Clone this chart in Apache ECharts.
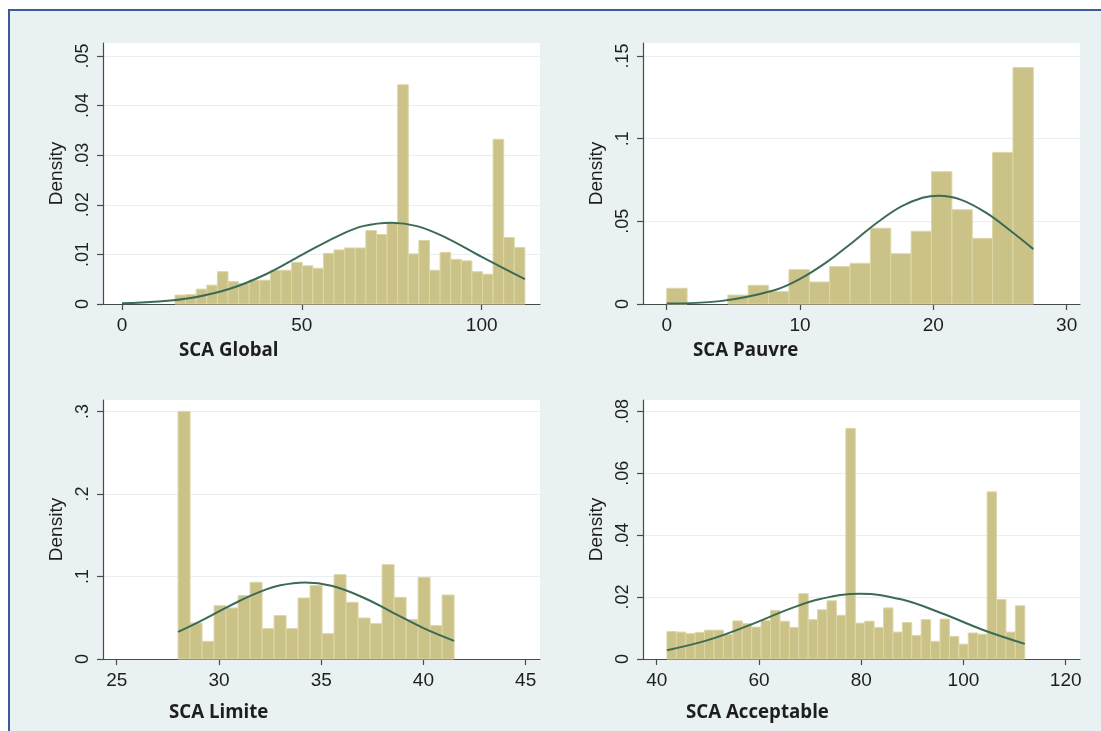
<!DOCTYPE html>
<html>
<head>
<meta charset="utf-8">
<script src="https://cdn.jsdelivr.net/npm/echarts@6/dist/echarts.min.js"></script>
<style>
html,body{margin:0;padding:0;background:#fff;}
#chart{width:1101px;height:731px;}
</style>
</head>
<body>
<div id="chart"></div>
<script>
// ---------- DATA ----------
const titles = ['SCA Global', 'SCA Pauvre', 'SCA Limite', 'SCA Acceptable'];
const yName = 'Density';

// histogram bins: first bin start, bin width, densities
const globalBinStart = 0, globalBinWidth = 112 / 38;
const globalDensity = [0, 0, 0, 0, 0,
  0.0018, 0.0019, 0.0030, 0.0038, 0.0065, 0.0045, 0.0041, 0.0048, 0.0048, 0.0068,
  0.0068, 0.0084, 0.0077, 0.0072, 0.0102, 0.0109, 0.0113, 0.0113, 0.0148, 0.0140,
  0.0164, 0.0442, 0.0101, 0.0128, 0.0068, 0.0104, 0.0090, 0.0087, 0.0065, 0.0060,
  0.0332, 0.0134, 0.0114];

const pauvreBinStart = 0, pauvreBinWidth = 27.5 / 18;
const pauvreDensity = [0.0095, 0, 0, 0.0054, 0.0113, 0.0075, 0.0208, 0.0133, 0.0226,
  0.0246, 0.0458, 0.0304, 0.0440, 0.0800, 0.0570, 0.0397, 0.0917, 0.1430];

const limiteBinStart = 28, limiteBinWidth = 13.5 / 23;
const limiteDensity = [0.300, 0.0436, 0.0214, 0.0646, 0.0618, 0.0768, 0.0929, 0.0368,
  0.0525, 0.0368, 0.0739, 0.0889, 0.0307, 0.1022, 0.0687, 0.0497, 0.0428, 0.1143,
  0.0747, 0.0477, 0.0990, 0.0404, 0.0775];

const acceptBinStart = 42, acceptBinWidth = 70 / 38;
const acceptDensity = [0.0089, 0.0087, 0.0082, 0.0086, 0.0093, 0.0093, 0.0079, 0.0123,
  0.0114, 0.0103, 0.0124, 0.0157, 0.0122, 0.0102, 0.0211, 0.0127, 0.0159, 0.0188,
  0.0141, 0.0745, 0.0116, 0.0122, 0.0102, 0.0165, 0.0087, 0.0118, 0.0076, 0.0127,
  0.0057, 0.0129, 0.0073, 0.0048, 0.0084, 0.0080, 0.0540, 0.0192, 0.0087, 0.0172];

// overlaid normal curves [x, density]
const globalCurve = [[0,0.00015],[10,0.00049],[20,0.00133],[30,0.00307],[40,0.0060],[50,0.0099],
  [60,0.0137],[67,0.0157],[75,0.0164],[82,0.0157],[90,0.0134],[100,0.0095],[112,0.0050]];
const pauvreCurve = [[0,0.00024],[4,0.00174],[8,0.0082],[10,0.0152],[12,0.0253],[14,0.0377],
  [16,0.0505],[18,0.0606],[20.4,0.0655],[22,0.0633],[24,0.0550],[26,0.0429],[27.5,0.0332]];
const limiteCurve = [[28,0.0328],[29,0.0447],[30,0.0576],[31,0.0703],[32,0.0814],[33,0.0893],
  [34.2,0.0928],[35.5,0.0887],[37,0.0751],[38.5,0.0563],[40,0.0374],[41.5,0.0220]];
const acceptCurve = [[42,0.00286],[50,0.0061],[58,0.01085],[66,0.0162],[72,0.0194],[79.8,0.0211],
  [88,0.0192],[96,0.0146],[104,0.0093],[112,0.0049]];

// tick labels
const xTicks = [[0, 50, 100], [0, 10, 20, 30], [25, 30, 35, 40, 45], [40, 60, 80, 100, 120]];
const yTicks = [[0, 0.01, 0.02, 0.03, 0.04, 0.05], [0, 0.05, 0.1, 0.15], [0, 0.1, 0.2, 0.3],
  [0, 0.02, 0.04, 0.06, 0.08]];

// ---------- LAYOUT / STYLE ----------
const panels = [
  {left:103, top:43, width:437, height:261, xmin:-5.28, xmax:116.2, ymax:0.05262,
   bins:[globalBinStart, globalBinWidth, globalDensity], curve:globalCurve, tx:179, ty:351},
  {left:643, top:43, width:437, height:261, xmin:-1.78, xmax:31.0, ymax:0.15786,
   bins:[pauvreBinStart, pauvreBinWidth, pauvreDensity], curve:pauvreCurve, tx:693, ty:351},
  {left:103, top:400, width:437, height:259, xmin:24.33, xmax:45.70, ymax:0.3138,
   bins:[limiteBinStart, limiteBinWidth, limiteDensity], curve:limiteCurve, tx:169, ty:713},
  {left:643, top:400, width:437, height:259, xmin:37.32, xmax:122.80, ymax:0.08368,
   bins:[acceptBinStart, acceptBinWidth, acceptDensity], curve:acceptCurve, tx:686, ty:713}
];

const barFill = '#cbc288', barEdge = '#ddd6a6', curveColor = '#3b6b56';
const axisColor = '#4a4a4a', textColor = '#1e1e1e', gridColor = '#e8eef1';
const fontFam = '"Liberation Sans", Arial, sans-serif';

function fmt(v){ return v === 0 ? '0' : String(+v.toFixed(4)).replace(/^0\./, '.'); }

const grid = [], xAxis = [], yAxis = [], series = [], graphic = [];

graphic.push({type:'rect', z:-10, silent:true,
  shape:{x:9, y:10, width:1110, height:740},
  style:{fill:'#e9f1f3', stroke:'#3a5a98', lineWidth:2}});

panels.forEach((p, i) => {
  grid.push({left:p.left, top:p.top, width:p.width, height:p.height,
    show:true, backgroundColor:'#ffffff', borderWidth:0, containLabel:false});
  xAxis.push({type:'value', gridIndex:i, min:p.xmin, max:p.xmax,
    axisLine:{show:true, onZero:false, lineStyle:{color:axisColor, width:1.2}},
    axisTick:{show:true, length:6, customValues:xTicks[i], lineStyle:{color:axisColor, width:1.2}},
    axisLabel:{customValues:xTicks[i], formatter:fmt, fontSize:19, color:textColor,
      fontFamily:fontFam, margin:12},
    splitLine:{show:false}});
  yAxis.push({type:'value', gridIndex:i, min:0, max:p.ymax,
    name:yName, nameLocation:'middle', nameGap:37, nameRotate:90,
    nameTextStyle:{fontSize:19, color:textColor, fontFamily:fontFam},
    axisLine:{show:true, onZero:false, lineStyle:{color:axisColor, width:1.2}},
    axisTick:{show:true, length:6, customValues:yTicks[i], lineStyle:{color:axisColor, width:1.2}},
    axisLabel:{customValues:yTicks[i], formatter:fmt, rotate:90, fontSize:18, color:textColor,
      fontFamily:fontFam, margin:11},
    splitLine:{show:true, lineStyle:{color:gridColor, width:1}}});

  const [start, w, dens] = p.bins;
  const barData = [];
  dens.forEach((d, k) => { if (d > 0) barData.push([start + k * w, start + (k + 1) * w, d]); });
  series.push({type:'custom', xAxisIndex:i, yAxisIndex:i, data:barData, z:2,
    encode:{x:[0,1], y:2},
    renderItem:(params, api) => {
      const a = api.coord([api.value(0), api.value(2)]);
      const b = api.coord([api.value(1), 0]);
      return {type:'rect', shape:{x:a[0], y:a[1], width:b[0]-a[0], height:b[1]-a[1]},
        style:{fill:barFill, stroke:barEdge, lineWidth:1}};
    }});
  series.push({type:'line', xAxisIndex:i, yAxisIndex:i, data:p.curve, smooth:0.4,
    showSymbol:false, z:5, lineStyle:{color:curveColor, width:2}});

  graphic.push({type:'text', x:p.tx, y:p.ty, z:10,
    style:{text:titles[i], fill:textColor, font:'bold 18.7px "Open Sans", "Noto Sans", sans-serif',
      align:'left', verticalAlign:'middle'}});
});

const chart = echarts.init(document.getElementById('chart'), null, {renderer:'canvas'});
chart.setOption({animation:false, backgroundColor:'#ffffff', grid, xAxis, yAxis, series, graphic});
</script>
</body>
</html>
